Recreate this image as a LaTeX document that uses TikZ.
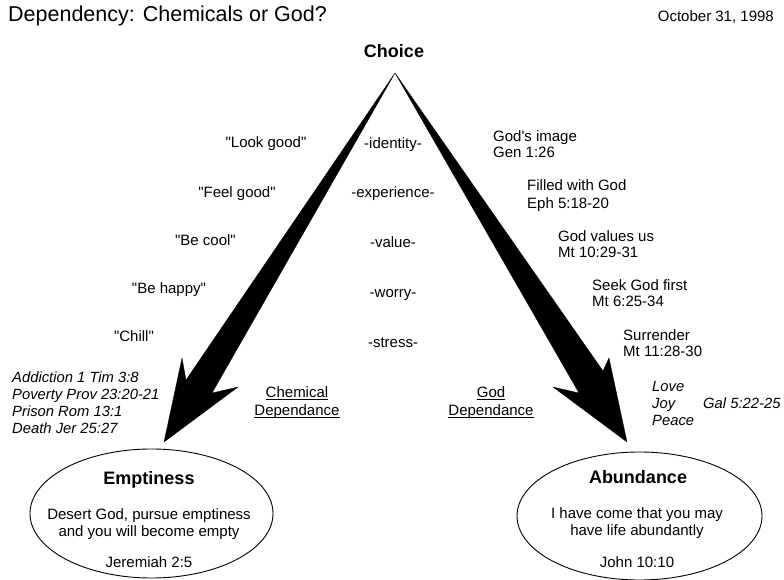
\documentclass[tikz,border=0pt]{standalone}
\usepackage{fontspec}
\setmainfont{Liberation Sans}
\newcommand{\dq}{\textquotedbl}
\begin{document}
\begin{tikzpicture}[x=1pt,y=-1pt,
  txt/.style={font=\fontsize{15}{17}\selectfont, inner sep=0pt, anchor=base},
  txtl/.style={txt, anchor=base west},
  itl/.style={font=\fontsize{14.8}{17}\selectfont\itshape, inner sep=0pt, anchor=base west},
  head/.style={font=\fontsize{18}{20}\selectfont\bfseries, inner sep=0pt, anchor=base},
  ul/.style={line width=0.8pt},
  bigarrow/.style={fill=black, draw=black, line width=0.3pt, line join=miter}]
\useasboundingbox (0,0) rectangle (784,580);
% title and date
\node[font=\fontsize{21.5}{24}\selectfont, inner sep=0pt, anchor=base west] (title) at (8,22) {Dependency: Chemicals or God?};
\node[txt, anchor=base east] (date) at (774,22) {October 31, 1998};
% choice
\node[head] (choice) at (394,58) {Choice};
\coordinate (apex) at (395,73);
% ellipses
\draw[line width=0.9pt] (151.5,513.5) ellipse [x radius=121.5, y radius=64.5];
\draw[line width=0.9pt] (639.5,516) ellipse [x radius=122.5, y radius=64];
% arrows
\fill[bigarrow] (apex) -- (186,380) -- (182,358) -- (164,442) -- (238,387) -- (212,393) -- cycle;
\fill[bigarrow] (apex) -- (603,371) -- (609,358) -- (627,442) -- (553,387) -- (579,393) -- cycle;
% left quotes
\node[txt] (q1) at (266,148) {\dq Look good\dq};
\node[txt] (q2) at (237,197) {\dq Feel good\dq};
\node[txt] (q3) at (205.5,245) {\dq Be cool\dq};
\node[txt] (q4) at (169,293) {\dq Be happy\dq};
\node[txt] (q5) at (134,341) {\dq Chill\dq};
% center words
\node[txt] (m1) at (393,149) {-identity-};
\node[txt] (m2) at (393,197) {-experience-};
\node[txt] (m3) at (393,247) {-value-};
\node[txt] (m4) at (393,297) {-worry-};
\node[txt] (m5) at (393,347) {-stress-};
% right texts
\node[txtl] (r1a) at (493,142) {God\textquotesingle s image};
\node[txtl] (r1b) at (493,158) {Gen 1:26};
\node[txtl] (r2a) at (527,191) {Filled with God};
\node[txtl] (r2b) at (527,208) {Eph 5:18-20};
\node[txtl] (r3a) at (558,241) {God values us};
\node[txtl] (r3b) at (558,257) {Mt 10:29-31};
\node[txtl] (r4a) at (592,290) {Seek God first};
\node[txtl] (r4b) at (592,306) {Mt 6:25-34};
\node[txtl] (r5a) at (623,340) {Surrender};
\node[txtl] (r5b) at (623,356) {Mt 11:28-30};
% dependance labels
\node[txt] (c1) at (297,397) {Chemical};
\node[txt] (c2) at (297,415) {Dependance};
\node[txt] (g1) at (491,397) {God};
\node[txt] (g2) at (491,415) {Dependance};
\draw[ul] ([yshift=-2pt]c1.base west) -- ([yshift=-2pt]c1.base east);
\draw[ul] ([yshift=-2pt]c2.base west) -- ([yshift=-2pt]c2.base east);
\draw[ul] ([yshift=-2pt]g1.base west) -- ([yshift=-2pt]g1.base east);
\draw[ul] ([yshift=-2pt]g2.base west) -- ([yshift=-2pt]g2.base east);
% left italic list
\node[itl] (l1) at (12,382) {Addiction 1 Tim 3:8};
\node[itl] (l2) at (12,399) {Poverty Prov 23:20-21};
\node[itl] (l3) at (12,416) {Prison Rom 13:1};
\node[itl] (l4) at (12,433) {Death Jer 25:27};
% fruit of spirit
\node[itl] (f1) at (652,391) {Love};
\node[itl] (f2) at (652,408) {Joy};
\node[itl] (f3) at (652,425) {Peace};
\node[itl] (gal) at (703,408) {Gal 5:22-25};
% ellipse texts
\node[head] (empt) at (149,484) {Emptiness};
\node[txt] (e1) at (149,519) {Desert God, pursue emptiness};
\node[txt] (e2) at (149,536) {and you will become empty};
\node[txt] (e3) at (149,567) {Jeremiah 2:5};
\node[head] (abund) at (638,483) {Abundance};
\node[txt] (a1) at (637,518) {I have come that you may};
\node[txt] (a2) at (637,535) {have life abundantly};
\node[txt] (a3) at (637,567) {John 10:10};
\end{tikzpicture}
\end{document}
